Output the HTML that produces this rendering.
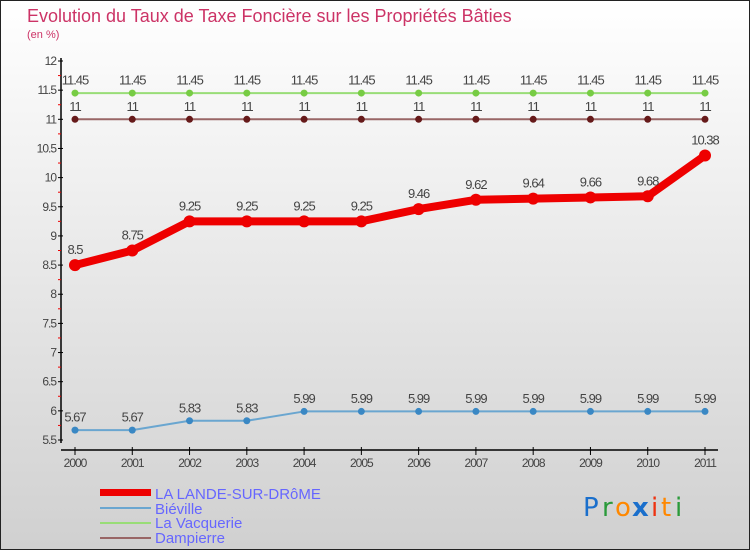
<!DOCTYPE html>
<html><head><meta charset="utf-8"><style>
html,body{margin:0;padding:0;width:750px;height:550px;overflow:hidden}
body{font-family:"Liberation Sans",sans-serif}
</style></head><body>
<svg width="750" height="550" xmlns="http://www.w3.org/2000/svg">
<defs><linearGradient id="bg" x1="0" y1="0" x2="0" y2="1"><stop offset="0" stop-color="#ffffff"/><stop offset="1" stop-color="#d0d0d0"/></linearGradient></defs>
<rect x="0.5" y="0.5" width="749" height="549" fill="url(#bg)" stroke="#222"/>
<text x="27" y="22" font-size="18" fill="#cc3366">Evolution du Taux de Taxe Foncière sur les Propriétés Bâties</text>
<text x="27" y="38" font-size="11" fill="#cc3366">(en %)</text>
<g id="axes"></g>
<g id="series"></g>
<g>
<rect x="100" y="489" width="51" height="7" fill="#ee0000"/>
<text x="155" y="499" font-size="15" fill="#6666ff">LA LANDE-SUR-DRôME</text>
<rect x="100" y="507" width="51" height="2" fill="#6aa6d0"/>
<text x="155" y="514" font-size="15" fill="#6666ff">Biéville</text>
<rect x="100" y="522" width="51" height="2" fill="#99dd77"/>
<text x="155" y="528" font-size="15" fill="#6666ff">La Vacquerie</text>
<rect x="100" y="537" width="51" height="2" fill="#996666"/>
<text x="155" y="543" font-size="15" fill="#6666ff">Dampierre</text>
</g>
<g font-size="26" font-family="DejaVu Sans,sans-serif">
<text x="583" y="516" fill="#1a6fcc">P</text><text x="602" y="516" fill="#2a9a3a">r</text><text x="615" y="516" fill="#ff8800">o</text><text x="632" y="516" fill="#1a6fcc" font-weight="bold">x</text><text x="651" y="516" fill="#ee3311">i</text><text x="661" y="516" fill="#ff8800">t</text><text x="675" y="516" fill="#2a9a3a">i</text>
</g>
</svg>
<script>
const years=["2000","2001","2002","2003","2004","2005","2006","2007","2008","2009","2010","2011"];
const laLande=[8.5,8.75,9.25,9.25,9.25,9.25,9.46,9.62,9.64,9.66,9.68,10.38];
const bieville=[5.67,5.67,5.83,5.83,5.99,5.99,5.99,5.99,5.99,5.99,5.99,5.99];
const vacquerie=[11.45,11.45,11.45,11.45,11.45,11.45,11.45,11.45,11.45,11.45,11.45,11.45];
const dampierre=[11,11,11,11,11,11,11,11,11,11,11,11];
const yTicks=[5.5,6,6.5,7,7.5,8,8.5,9,9.5,10,10.5,11,11.5,12];
const NS="http://www.w3.org/2000/svg";
const X=i=>75+i*(630/11);
const Y=v=>440-(v-5.5)*(379/6.5);
function mk(t,a,p){const e=document.createElementNS(NS,t);for(const k in a)e.setAttribute(k,a[k]);p.appendChild(e);return e;}
const ax=document.getElementById('axes');
const yl=mk('line',{x1:61,y1:58,x2:61,y2:443,stroke:'#000','stroke-width':1.5},ax);


const xl=mk('line',{x1:61,y1:450,x2:718,y2:450,stroke:'#000','stroke-width':1.5},ax);


yTicks.forEach((v,i)=>{
  mk('line',{x1:58,y1:Y(v),x2:63,y2:Y(v),stroke:'#000'},ax);
  if(i<yTicks.length-1) mk('line',{x1:58,y1:Y(v+0.25),x2:61,y2:Y(v+0.25),stroke:'#e00'},ax);
  const t=mk('text',{x:56,y:Y(v)+4,'font-size':12,'text-anchor':'end',fill:'#444','letter-spacing':'-1'},ax);
  t.textContent=String(v);
  
  
});
years.forEach((y,i)=>{
  mk('line',{x1:X(i),y1:447,x2:X(i),y2:455,stroke:'#000'},ax);
  const t=mk('text',{x:X(i),y:467,'font-size':12,'text-anchor':'middle',fill:'#444','letter-spacing':'-1'},ax);
  t.textContent=y;
  
  
});
const sg=document.getElementById('series');
function series(data,name,color,w,r,dot){
  const g=mk('g',{},sg);
  
  
  mk('polyline',{points:data.map((v,i)=>X(i)+','+Y(v)).join(' '),fill:'none',stroke:color,'stroke-width':w,'stroke-linejoin':'round'},g);
  data.forEach((v,i)=>{
    const c=mk('circle',{cx:X(i),cy:Y(v),r:r,fill:dot},g);
    
    
    const t=mk('text',{x:X(i),y:Y(v)-r-5,'font-size':13,'text-anchor':'middle',fill:'#444','letter-spacing':'-1'},g);
    t.textContent=String(v);
    
    
  });
}
series(vacquerie,'la-vacquerie-series','#99dd77',2,3.5,'#77cc44');
series(dampierre,'dampierre-series','#996666',2,3.5,'#661a1a');
series(bieville,'bieville-series','#6aa6d0',2,3.5,'#3a88c4');
series(laLande,'la-lande-series','#ee0000',8,6,'#ee0000');
</script>
</body></html>
